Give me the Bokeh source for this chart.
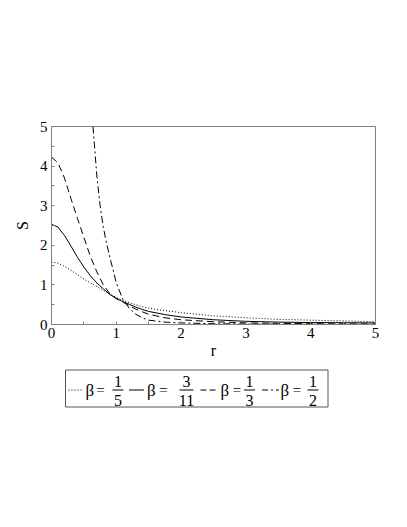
from bokeh.plotting import figure
from bokeh.layouts import column
from bokeh.models import Range1d, FixedTicker
from bokeh.core.properties import value
from bokeh.embed import file_html
from bokeh.resources import INLINE

# ---- data ----
r = [0, 0.1, 0.2, 0.3, 0.4, 0.5, 0.6, 0.7, 0.8, 0.9, 1.0, 1.1, 1.2, 1.3, 1.4,
     1.5, 1.75, 2.0, 2.5, 3.0, 3.5, 4.0, 4.5, 5.0]
s_b1_5 = [1.58, 1.55, 1.47, 1.37, 1.26, 1.15, 1.05, 0.96, 0.86, 0.77, 0.68, 0.61,
          0.55, 0.50, 0.45, 0.41, 0.35, 0.30, 0.22, 0.17, 0.13, 0.11, 0.09, 0.07]
s_b3_11 = [2.53, 2.46, 2.25, 1.98, 1.70, 1.45, 1.23, 1.05, 0.90, 0.76, 0.66, 0.58,
           0.51, 0.44, 0.38, 0.33, 0.25, 0.19, 0.12, 0.08, 0.06, 0.05, 0.045, 0.04]
s_b1_3 = [4.23, 4.08, 3.70, 3.18, 2.68, 2.20, 1.72, 1.33, 1.00, 0.78, 0.65, 0.57,
          0.47, 0.39, 0.32, 0.26, 0.17, 0.12, 0.07, 0.04, 0.03, 0.02, 0.015, 0.012]
r_b1_2 = [0.64, 0.7, 0.75, 0.8, 0.85, 0.9, 0.95, 1.0, 1.1, 1.2, 1.3, 1.4, 1.5,
          1.75, 2.0, 2.5, 3.0, 3.5, 4.0, 4.5, 5.0]
s_b1_2 = [5.0, 3.75, 3.0, 2.45, 2.05, 1.70, 1.38, 1.05, 0.64, 0.41, 0.26, 0.17,
          0.11, 0.06, 0.04, 0.02, 0.012, 0.008, 0.005, 0.003, 0.002]
x_ticks = [0, 1, 2, 3, 4, 5]
y_ticks = [0, 1, 2, 3, 4, 5]
beta_num = ["1", "3", "1", "1"]
beta_den = ["5", "11", "3", "2"]

FONT = "Liberation Serif"
GRAY = "#7f7f7f"

BL, BT, BR, BB = 51, 126, 25, 43
FW, FH = 324, 198

p = figure(frame_width=FW, frame_height=FH, output_backend="svg",
           toolbar_location=None, x_range=Range1d(0, 5), y_range=Range1d(0, 5),
           min_border_left=BL, min_border_top=BT, min_border_right=BR,
           min_border_bottom=BB)
p.grid.visible = False
p.outline_line_color = GRAY
p.background_fill_color = "white"
p.border_fill_color = "white"

for ax, ticks, lab in ((p.xaxis[0], x_ticks, "r"), (p.yaxis[0], y_ticks, "S")):
    ax.ticker = FixedTicker(ticks=ticks, minor_ticks=[t + 0.5 for t in ticks[:-1]])
    ax.axis_line_color = GRAY
    ax.major_tick_line_color = GRAY
    ax.minor_tick_line_color = GRAY
    ax.major_tick_in = 3
    ax.major_tick_out = 0
    ax.minor_tick_in = 3
    ax.minor_tick_out = 0
    ax.major_label_text_font = FONT
    ax.major_label_text_font_size = "15px"
    ax.major_label_text_color = "black"
    ax.axis_label = lab
    ax.axis_label_text_font = FONT
    ax.axis_label_text_font_style = "normal"
    ax.axis_label_text_font_size = "16px"
    ax.axis_label_text_color = "black"
p.xaxis.major_label_standoff = 3
p.xaxis.axis_label_standoff = 1
p.yaxis.major_label_standoff = 4
p.yaxis.axis_label_standoff = 6

p.line(r, s_b1_5, line_color="black", line_width=1, line_dash="1 2")
p.line(r, s_b3_11, line_color="black", line_width=1)
p.line(r, s_b1_3, line_color="black", line_width=1, line_dash="7 4")
p.line(r_b1_2, s_b1_2, line_color="black", line_width=1, line_dash="7 3 2 3")

# ---- legend as its own small figure; its frame is aligned with the plot frame,
#      and its ranges are in page pixels ----
LH = 55
top = BT + FH + BB          # page y of legend figure top
leg = figure(frame_width=FW, frame_height=LH, output_backend="svg",
             toolbar_location=None,
             x_range=Range1d(BL, BL + FW), y_range=Range1d(top + LH, top),
             min_border_left=BL, min_border_right=BR, min_border_top=0,
             min_border_bottom=0, x_axis_location=None, y_axis_location=None)
leg.grid.visible = False
leg.outline_line_color = None
leg.background_fill_color = "white"
leg.border_fill_color = "white"

y0, y1 = 369.5, 406.5
bx0, bx1 = 65, 327.5
leg.line([bx0, bx1, bx1, bx0, bx0], [y0, y0, y1, y1, y0],
         line_color="#555555", line_width=1)

line_x0 = [68, 128.5, 200, 261.5]
line_x1 = [83, 143.5, 218, 278.5]
beta_x = [85, 146.5, 220, 280]
eq_x = [100, 163, 236.5, 296.5]
frac_x = [117.5, 186, 249, 312.5]
frac_hw = [5.5, 7, 5.5, 5.5]
dashes = ["1 2", "solid", "6 3", "6 3 2 3"]
mid = 389.5
for i in range(4):
    leg.line([line_x0[i], line_x1[i]], [mid, mid], line_color="black", line_width=1,
             line_dash=dashes[i])
    leg.text([beta_x[i]], [mid], text=["β"], text_font=value(FONT), text_font_size="17px",
             text_align="left", text_baseline="middle", text_color="black")
    leg.text([eq_x[i]], [mid - 0.5], text=["="], text_font=value(FONT), text_font_size="15px",
             text_align="center", text_baseline="middle", text_color="black")
    cx = frac_x[i]
    hw = frac_hw[i]
    leg.line([cx - hw, cx + hw], [mid, mid], line_color="black", line_width=1)
    leg.text([cx], [380.5], text=[beta_num[i]], text_font=value(FONT),
             text_font_size="16px", text_align="center", text_baseline="middle",
             text_color="black")
    leg.text([cx], [399.5], text=[beta_den[i]], text_font=value(FONT),
             text_font_size="16px", text_align="center", text_baseline="middle",
             text_color="black")

layout = column(p, leg, spacing=0)
open("out.html", "w").write(file_html(layout, INLINE))
